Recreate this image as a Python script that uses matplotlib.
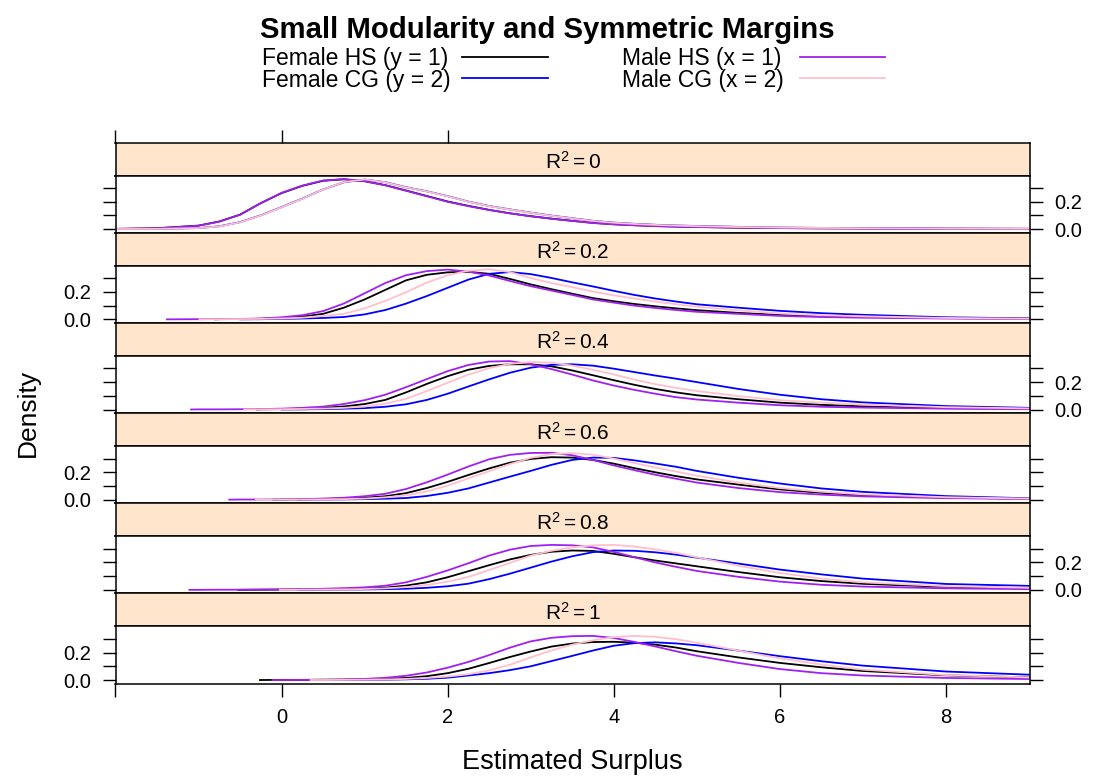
import matplotlib.pyplot as plt
from matplotlib.lines import Line2D

plt.rcParams['font.family'] = ['Liberation Sans', 'DejaVu Sans']
plt.rcParams['mathtext.fontset'] = 'custom'
plt.rcParams['mathtext.rm'] = 'Liberation Sans'
plt.rcParams['mathtext.it'] = 'Liberation Sans:italic'

# ---- data ----
r2_labels = ['0', '0.2', '0.4', '0.6', '0.8', '1']
series_names = ['Female HS (y = 1)', 'Female CG (y = 2)', 'Male HS (x = 1)', 'Male CG (x = 2)']
series_colors = ['black', '#0000ff', '#a020f0', '#ffc0cb']

x_grid = [-2, -1.5, -1, -0.75, -0.5, -0.25, 0, 0.25, 0.5, 0.75, 1, 1.25, 1.5, 1.75,
          2, 2.25, 2.5, 2.75, 3, 3.25, 3.5, 3.75, 4, 4.25, 4.5, 4.75, 5, 5.5, 6, 6.5,
          7, 8, 9]

# where each density curve begins (one value per panel, top panel first)
start_female_hs = [-2.6, -0.8, -0.3, -0.1, -0.52, -0.26]
start_female_cg = [-2.6, -0.5, 0.0, 0.2, 0.2, 0.6]
start_male_hs = [-2.6, -1.38, -1.09, -0.63, -1.11, -0.11]
start_male_cg = [-2.6, -0.99, -0.45, -0.31, -0.02, 0.35]

female_hs = [
    [0.002, 0.007, 0.026, 0.056, 0.106, 0.19, 0.263, 0.316, 0.353, 0.364, 0.35, 0.321, 0.282,
     0.242, 0.202, 0.17, 0.141, 0.116, 0.095, 0.077, 0.061, 0.046, 0.036, 0.029, 0.023, 0.019,
     0.016, 0.011, 0.008, 0.006, 0.005, 0.003, 0.002],
    [0, 0, 0, 0.001, 0.002, 0.004, 0.01, 0.02, 0.04, 0.085, 0.145, 0.215, 0.285, 0.325, 0.343,
     0.347, 0.332, 0.295, 0.255, 0.22, 0.187, 0.155, 0.132, 0.112, 0.095, 0.08, 0.067, 0.047,
     0.032, 0.023, 0.017, 0.009, 0.005],
    [0, 0, 0, 0, 0, 0.001, 0.003, 0.006, 0.012, 0.022, 0.04, 0.07, 0.125, 0.187, 0.243, 0.29,
     0.318, 0.33, 0.33, 0.315, 0.285, 0.25, 0.214, 0.18, 0.15, 0.125, 0.104, 0.075, 0.05, 0.034,
     0.023, 0.01, 0.005],
    [0, 0, 0, 0, 0, 0, 0.001, 0.002, 0.005, 0.008, 0.014, 0.025, 0.048, 0.085, 0.13, 0.18,
     0.228, 0.27, 0.297, 0.31, 0.307, 0.29, 0.263, 0.23, 0.2, 0.172, 0.148, 0.11, 0.075, 0.05,
     0.033, 0.015, 0.007],
    [0, 0, 0, 0, 0, 0.001, 0.002, 0.003, 0.005, 0.007, 0.01, 0.016, 0.031, 0.055, 0.092, 0.136,
     0.18, 0.222, 0.255, 0.278, 0.287, 0.284, 0.263, 0.238, 0.214, 0.193, 0.172, 0.13, 0.092,
     0.064, 0.044, 0.022, 0.012],
    [0, 0, 0, 0, 0, 0, 0.001, 0.001, 0.002, 0.003, 0.005, 0.009, 0.015, 0.028, 0.05, 0.082,
     0.124, 0.168, 0.208, 0.244, 0.266, 0.277, 0.279, 0.272, 0.258, 0.237, 0.21, 0.165, 0.125,
     0.093, 0.066, 0.034, 0.019],
]

female_cg = [
    [0.001, 0.002, 0.008, 0.021, 0.051, 0.101, 0.161, 0.223, 0.29, 0.342, 0.362, 0.343, 0.306,
     0.276, 0.241, 0.201, 0.169, 0.144, 0.121, 0.099, 0.08, 0.061, 0.048, 0.039, 0.032, 0.027,
     0.023, 0.017, 0.012, 0.009, 0.007, 0.004, 0.003],
    [0, 0, 0, 0, 0, 0.001, 0.003, 0.006, 0.01, 0.017, 0.036, 0.068, 0.115, 0.17, 0.23, 0.29,
     0.332, 0.345, 0.33, 0.302, 0.27, 0.24, 0.208, 0.178, 0.152, 0.13, 0.11, 0.085, 0.062,
     0.045, 0.033, 0.015, 0.007],
    [0, 0, 0, 0, 0, 0, 0, 0.001, 0.003, 0.006, 0.01, 0.02, 0.038, 0.07, 0.115, 0.168, 0.22,
     0.268, 0.305, 0.326, 0.33, 0.32, 0.298, 0.273, 0.248, 0.225, 0.2, 0.15, 0.108, 0.075,
     0.052, 0.025, 0.012],
    [0, 0, 0, 0, 0, 0, 0, 0.001, 0.001, 0.002, 0.004, 0.007, 0.012, 0.027, 0.05, 0.082, 0.125,
     0.168, 0.21, 0.254, 0.29, 0.307, 0.305, 0.287, 0.264, 0.24, 0.21, 0.16, 0.118, 0.082,
     0.057, 0.026, 0.01],
    [0, 0, 0, 0, 0, 0, 0, 0, 0.001, 0.002, 0.003, 0.005, 0.008, 0.015, 0.026, 0.045, 0.078,
     0.118, 0.162, 0.206, 0.245, 0.275, 0.287, 0.285, 0.274, 0.257, 0.235, 0.192, 0.148, 0.113,
     0.082, 0.043, 0.029],
    [0, 0, 0, 0, 0, 0, 0, 0, 0, 0, 0.001, 0.002, 0.005, 0.009, 0.017, 0.033, 0.05, 0.072, 0.1,
     0.138, 0.176, 0.215, 0.25, 0.269, 0.275, 0.267, 0.254, 0.215, 0.174, 0.137, 0.105, 0.062,
     0.039],
]

male_hs = [
    [0.002, 0.006, 0.025, 0.055, 0.105, 0.19, 0.265, 0.318, 0.355, 0.365, 0.35, 0.32, 0.28,
     0.24, 0.2, 0.168, 0.14, 0.115, 0.094, 0.076, 0.06, 0.045, 0.035, 0.028, 0.022, 0.018,
     0.015, 0.011, 0.008, 0.006, 0.005, 0.003, 0.002],
    [0, 0, 0.001, 0.002, 0.003, 0.006, 0.015, 0.03, 0.06, 0.115, 0.19, 0.265, 0.322, 0.352,
     0.363, 0.348, 0.32, 0.28, 0.242, 0.21, 0.178, 0.145, 0.122, 0.1, 0.083, 0.068, 0.055, 0.04,
     0.025, 0.017, 0.012, 0.006, 0.003],
    [0, 0, 0.001, 0.001, 0.002, 0.003, 0.006, 0.012, 0.021, 0.04, 0.068, 0.108, 0.163, 0.222,
     0.28, 0.325, 0.35, 0.353, 0.33, 0.295, 0.255, 0.212, 0.175, 0.143, 0.115, 0.09, 0.073,
     0.05, 0.031, 0.02, 0.014, 0.006, 0.002],
    [0, 0, 0, 0, 0.001, 0.001, 0.002, 0.004, 0.008, 0.014, 0.025, 0.043, 0.078, 0.127, 0.183,
     0.242, 0.295, 0.327, 0.341, 0.342, 0.324, 0.29, 0.25, 0.215, 0.182, 0.153, 0.125, 0.085,
     0.055, 0.037, 0.024, 0.011, 0.005],
    [0, 0, 0, 0.001, 0.001, 0.002, 0.003, 0.005, 0.008, 0.012, 0.018, 0.03, 0.055, 0.095,
     0.142, 0.194, 0.25, 0.293, 0.32, 0.328, 0.325, 0.31, 0.277, 0.238, 0.2, 0.168, 0.138,
     0.095, 0.06, 0.037, 0.024, 0.011, 0.005],
    [0, 0, 0, 0, 0, 0, 0, 0.001, 0.002, 0.004, 0.008, 0.016, 0.031, 0.055, 0.09, 0.132, 0.182,
     0.236, 0.282, 0.308, 0.32, 0.322, 0.307, 0.278, 0.245, 0.21, 0.177, 0.125, 0.08, 0.05,
     0.033, 0.015, 0.007],
]

male_cg = [
    [0.001, 0.002, 0.008, 0.02, 0.05, 0.1, 0.16, 0.222, 0.29, 0.343, 0.363, 0.342, 0.305,
     0.275, 0.24, 0.2, 0.168, 0.143, 0.12, 0.098, 0.079, 0.06, 0.047, 0.038, 0.031, 0.026,
     0.022, 0.016, 0.012, 0.009, 0.007, 0.004, 0.003],
    [0, 0, 0, 0.001, 0.002, 0.003, 0.006, 0.012, 0.025, 0.04, 0.08, 0.135, 0.198, 0.268, 0.322,
     0.355, 0.365, 0.345, 0.302, 0.265, 0.235, 0.203, 0.175, 0.152, 0.13, 0.11, 0.092, 0.066,
     0.043, 0.03, 0.022, 0.01, 0.005],
    [0, 0, 0, 0, 0, 0.001, 0.002, 0.004, 0.007, 0.012, 0.022, 0.042, 0.078, 0.135, 0.195,
     0.255, 0.302, 0.333, 0.346, 0.342, 0.32, 0.29, 0.256, 0.218, 0.185, 0.158, 0.135, 0.098,
     0.068, 0.05, 0.036, 0.017, 0.008],
    [0, 0, 0, 0, 0, 0, 0.001, 0.001, 0.002, 0.004, 0.008, 0.017, 0.032, 0.06, 0.103, 0.155,
     0.208, 0.26, 0.305, 0.332, 0.34, 0.328, 0.3, 0.267, 0.235, 0.205, 0.175, 0.125, 0.085,
     0.058, 0.039, 0.018, 0.008],
    [0, 0, 0, 0, 0, 0, 0, 0.001, 0.002, 0.003, 0.006, 0.011, 0.02, 0.035, 0.06, 0.094, 0.145,
     0.196, 0.25, 0.285, 0.31, 0.325, 0.328, 0.316, 0.295, 0.27, 0.238, 0.176, 0.123, 0.082,
     0.055, 0.027, 0.015],
    [0, 0, 0, 0, 0, 0, 0, 0, 0, 0.001, 0.002, 0.004, 0.008, 0.015, 0.025, 0.042, 0.07, 0.112,
     0.165, 0.216, 0.258, 0.29, 0.313, 0.322, 0.315, 0.298, 0.272, 0.215, 0.158, 0.113, 0.076,
     0.036, 0.019],
]

all_values = [female_hs, female_cg, male_hs, male_cg]
all_starts = [start_female_hs, start_female_cg, start_male_hs, start_male_cg]

# ---- layout (pixels of the 1094x782 picture) ----
W, H = 1094, 782
LEFT, RIGHT = 115.5, 1029.7
TOP, BLOCK, STRIP = 142.5, 90.17, 33.0
XLIM = (-2.0, 9.01)
YLIM = (-0.0256, 0.3916)


def box(x0, y0, x1, y1):
    return [x0 / W, 1 - y1 / H, (x1 - x0) / W, (y1 - y0) / H]


fig = plt.figure(figsize=(W / 100, H / 100), dpi=100)

for k, lab in enumerate(r2_labels):
    y0 = TOP + k * BLOCK
    # strip
    sax = fig.add_axes(box(LEFT, y0, RIGHT, y0 + STRIP))
    sax.set_facecolor('#ffe5cc')
    sax.set_xlim(*XLIM)
    sax.set_yticks([])
    if k == 0:
        sax.set_xticks([-2, 0, 2])
        sax.tick_params(axis='x', top=True, bottom=False, labeltop=False, labelbottom=False,
                        direction='out', length=9.5, width=1)
    else:
        sax.set_xticks([])
    for s in sax.spines.values():
        s.set_linewidth(1.1)
    sax.text(0.5, 0.2, r'$\mathrm{R}^{2} = ' + lab + '$', transform=sax.transAxes,
             ha='center', va='baseline', fontsize=15)

    # panel
    ax = fig.add_axes(box(LEFT, y0 + STRIP, RIGHT, y0 + BLOCK))
    ax.set_xlim(*XLIM)
    ax.set_ylim(*YLIM)
    for vals, starts, color in zip(all_values, all_starts, series_colors):
        st = starts[k]
        xs = [st] + [x for x in x_grid if x > st]
        ys = [0.0] + [v for x, v in zip(x_grid, vals[k]) if x > st]
        ax.plot(xs, ys, color=color, lw=1.3)
    for s in ax.spines.values():
        s.set_linewidth(1.1)
    ax.set_yticks([0, 0.1, 0.2, 0.3])
    ax.set_yticklabels(['0.0', '', '0.2', ''])
    ax.tick_params(axis='y', direction='out', length=9.5, width=1, left=True, right=True,
                   labelleft=(k % 2 == 1), labelright=(k % 2 == 0), pad=8, labelsize=14.5)
    if k == len(r2_labels) - 1:
        ax.set_xticks([-2, 0, 2, 4, 6, 8])
        ax.set_xticklabels(['', '0', '2', '4', '6', '8'])
        ax.tick_params(axis='x', direction='out', length=9.5, width=1, pad=8, labelsize=14.5)
    else:
        ax.set_xticks([])

# title and axis labels
fig.text(0.5, 1 - 30 / H, 'Small Modularity and Symmetric Margins',
         ha='center', va='center', fontsize=21.2, fontweight='bold')
fig.text((LEFT + RIGHT) / 2 / W, 1 - 762 / H, 'Estimated Surplus',
         ha='center', va='center', fontsize=19.5)
fig.text(28 / W, 1 - 413 / H, 'Density', rotation=90, ha='center', va='center', fontsize=19)

# legend (two columns, drawn by hand like the lattice key)
key_rows = [59, 80]
key_cols = [(262, 462, 548), (622, 800, 885)]
for i, (name, color) in enumerate(zip(series_names, series_colors)):
    col, row = key_cols[i // 2], key_rows[i % 2]
    fig.text(col[0] / W, 1 - row / H, name, ha='left', va='center', fontsize=16.5)
    fig.add_artist(Line2D([col[1] / W, col[2] / W], [1 - (row - 2) / H, 1 - (row - 2) / H],
                          color=color, lw=1.3))

fig.savefig('out.png', dpi=100)
